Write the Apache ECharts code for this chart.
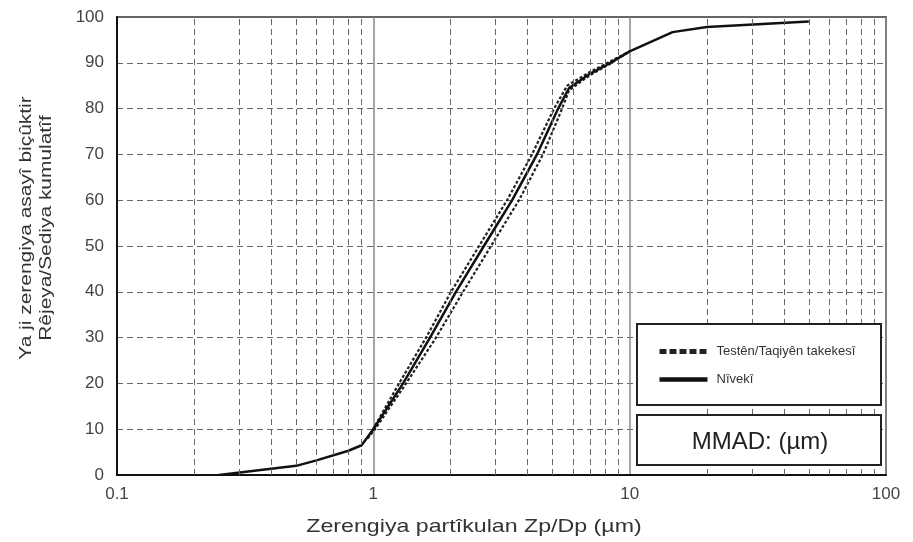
<!DOCTYPE html>
<html>
<head>
<meta charset="utf-8">
<script src="https://cdn.jsdelivr.net/npm/echarts@6/dist/echarts.min.js"></script>
<style>
  html, body { margin: 0; padding: 0; background: #fff; }
  #chart { width: 913px; height: 542px; }
</style>
</head>
<body>
<div id="chart"></div>
<script>
// Cumulative size distribution: particle diameter (µm, log scale) vs cumulative %
const nameLimits = 'Testên/Taqiyên takekesî';
const nameNominal = 'Nîvekî';
const xTitle = 'Zerengiya partîkulan Zp/Dp (µm)';
const yTitle = 'Ya ji zerengiya asayî biçûktir\nRêjeya/Sediya kumulatîf';
const boxText = 'MMAD: (µm)';

// Nominal curve [diameter µm, cumulative %]
const nominalCurve = [
  [0.25, 0], [0.5, 2], [0.6, 3.2], [0.8, 5.3], [0.9, 6.5], [1.0, 10],
  [1.306, 20], [1.664, 30], [2.10, 40], [2.70, 50], [3.48, 60], [4.35, 70],
  [5.26, 80], [5.8, 84.5], [7, 87.6], [8.4, 90], [10, 92.5],
  [14.7, 96.7], [20, 97.8], [50, 99]
];

// Test/tolerance limit curves
const limitUpper = [
  [0.95, 8], [0.997, 10], [1.26, 20], [1.606, 30], [2.01, 40], [2.585, 50],
  [3.324, 60], [4.16, 70], [5.07, 80], [5.70, 85], [7, 88], [8.4, 90.3], [10, 92.5]
];
const limitLower = [
  [0.95, 8], [1.015, 10], [1.342, 20], [1.756, 30], [2.239, 40], [2.878, 50],
  [3.70, 60], [4.59, 70], [5.45, 80], [5.80, 84], [7, 87.3], [8.4, 89.8], [10, 92.5]
];

// Intermediate log-decade grid positions
const minorGridX = [0.2, 0.3, 0.4, 0.5, 0.6, 0.7, 0.8, 0.9,
                    2, 3, 4, 5, 6, 7, 8, 9,
                    20, 30, 40, 50, 60, 70, 80, 90];

const fontFamily = '"Liberation Sans", Arial, sans-serif';
const chart = echarts.init(document.getElementById('chart'), null, { renderer: 'canvas' });

const option = {
  backgroundColor: '#ffffff',
  animation: false,
  grid: {
    left: 117, right: 27, top: 17, bottom: 67,
    show: true, borderColor: '#666', borderWidth: 2, backgroundColor: 'transparent'
  },
  xAxis: {
    type: 'log', logBase: 10, min: 0.1, max: 100,
    axisLine: { show: true, lineStyle: { color: '#111', width: 2 } },
    axisTick: { show: false },
    axisLabel: { fontFamily, fontSize: 17, color: '#444', margin: 11,
      formatter: v => String(v) },
    splitLine: { show: true, lineStyle: { color: '#888', width: 1.5, type: 'solid' } }
  },
  yAxis: {
    type: 'value', min: 0, max: 100, interval: 10,
    axisLine: { show: true, lineStyle: { color: '#111', width: 2 } },
    axisTick: { show: false },
    axisLabel: { fontFamily, fontSize: 17, color: '#444', margin: 13 },
    splitLine: { show: true, lineStyle: { color: '#666', width: 1, type: [6, 4] } }
  },
  legend: {
    data: [
      { name: nameLimits, itemStyle: { opacity: 0 }, lineStyle: { width: 5, type: [7, 3] } },
      { name: nameNominal, itemStyle: { opacity: 0 }, lineStyle: { width: 4.5 } }
    ],
    orient: 'vertical', left: 652, top: 340, itemGap: 15,
    itemWidth: 48, itemHeight: 14, z: 30,
    textStyle: { fontFamily, fontSize: 13, color: '#333', padding: [0, 0, 0, 4] },
    selectedMode: false
  },
  graphic: [
    { type: 'rect', z: 20, shape: { x: 637, y: 324, width: 244, height: 81 },
      style: { fill: '#fff', stroke: '#222', lineWidth: 2 } },
    { type: 'rect', z: 20, shape: { x: 637, y: 415, width: 244, height: 50 },
      style: { fill: '#fff', stroke: '#222', lineWidth: 2 } },
    { type: 'text', z: 21, x: 760, y: 442,
      style: { text: boxText, fontFamily, fontSize: 24, fill: '#222',
        align: 'center', verticalAlign: 'middle' } },
    // axis titles, set in a slightly extended face
    { type: 'text', z: 21, x: 474, y: 527, scaleX: 1.22,
      style: { text: xTitle, fontFamily, fontSize: 19, fill: '#333',
        align: 'center', verticalAlign: 'middle' } },
    { type: 'text', z: 21, x: 36, y: 228, rotation: Math.PI / 2, scaleX: 1.23,
      style: { text: yTitle, fontFamily, fontSize: 17, lineHeight: 20, fill: '#333',
        align: 'center', verticalAlign: 'middle' } }
  ],
  series: [
    {
      name: 'grid', type: 'line', data: [], silent: true,
      markLine: {
        silent: true, symbol: 'none', label: { show: false },
        lineStyle: { color: '#666', width: 1, type: [6, 4] },
        data: minorGridX.map(v => ({ xAxis: v }))
      }
    },
    {
      name: nameLimits, type: 'line', data: limitUpper, symbol: 'none', z: 3,
      lineStyle: { color: '#222', width: 2.2, type: [3, 2] }
    },
    {
      name: nameLimits, type: 'line', data: limitLower, symbol: 'none', z: 3,
      lineStyle: { color: '#222', width: 2.2, type: [3, 2] }
    },
    {
      name: nameNominal, type: 'line', data: nominalCurve, symbol: 'none', z: 4,
      lineStyle: { color: '#111', width: 2.5, type: 'solid' }
    }
  ]
};

chart.setOption(option);
</script>
</body>
</html>
